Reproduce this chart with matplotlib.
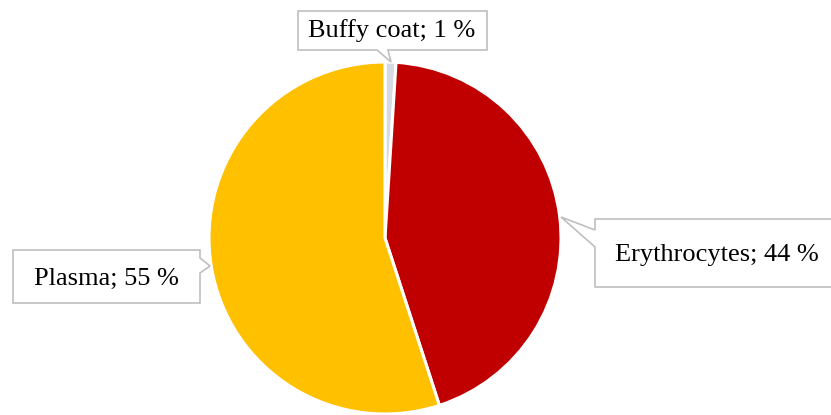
import matplotlib
matplotlib.use("Agg")
import matplotlib.pyplot as plt
from matplotlib.patches import Polygon

# Blood composition
labels = ["Buffy coat", "Erythrocytes", "Plasma"]
shares = [1, 44, 55]
colors = ["#D5DAE3", "#C00000", "#FFC000"]

W, H = 831, 415
fig = plt.figure(figsize=(W / 100, H / 100), dpi=100)
ax = fig.add_axes([0, 0, 1, 1])
ax.set_xlim(0, W)
ax.set_ylim(0, H)
ax.set_aspect("equal")
ax.axis("off")

cx, cy, r = 385, H - 238, 176
ax.pie(shares, colors=colors, startangle=90, counterclock=False,
       center=(cx, cy), radius=r, frame=True,
       wedgeprops=dict(edgecolor="white", linewidth=2.2))
ax.set_xlim(0, W)
ax.set_ylim(0, H)
ax.axis("off")


def callout(points, text, tx, ty):
    pts = [(x, H - y) for x, y in points]
    ax.add_patch(Polygon(pts, closed=True, facecolor="white",
                         edgecolor="#BFBFBF", linewidth=1.2, zorder=5,
                         clip_on=True))
    ax.text(tx, H - ty, text, ha="center", va="center", fontsize=19,
            family="Liberation Serif", color="black", zorder=6)


# Buffy coat label above the pie, pointer down to the thin slice
callout([(298, 11), (487, 11), (487, 50), (388, 50), (391, 62),
         (377, 50), (298, 50)],
        f"{labels[0]}; {shares[0]} %", 392, 31)

# Erythrocytes label on the right, pointer left to the red slice
callout([(595, 219), (845, 219), (845, 287), (595, 287), (595, 247),
         (561, 217), (595, 230)],
        f"{labels[1]}; {shares[1]} %", 717, 255)

# Plasma label on the left, pointer right to the yellow slice
callout([(13, 250), (200, 250), (200, 258), (210, 266), (200, 273),
         (200, 303), (13, 303)],
        f"{labels[2]}; {shares[2]} %", 106, 279)

fig.savefig("out.png", dpi=100)
